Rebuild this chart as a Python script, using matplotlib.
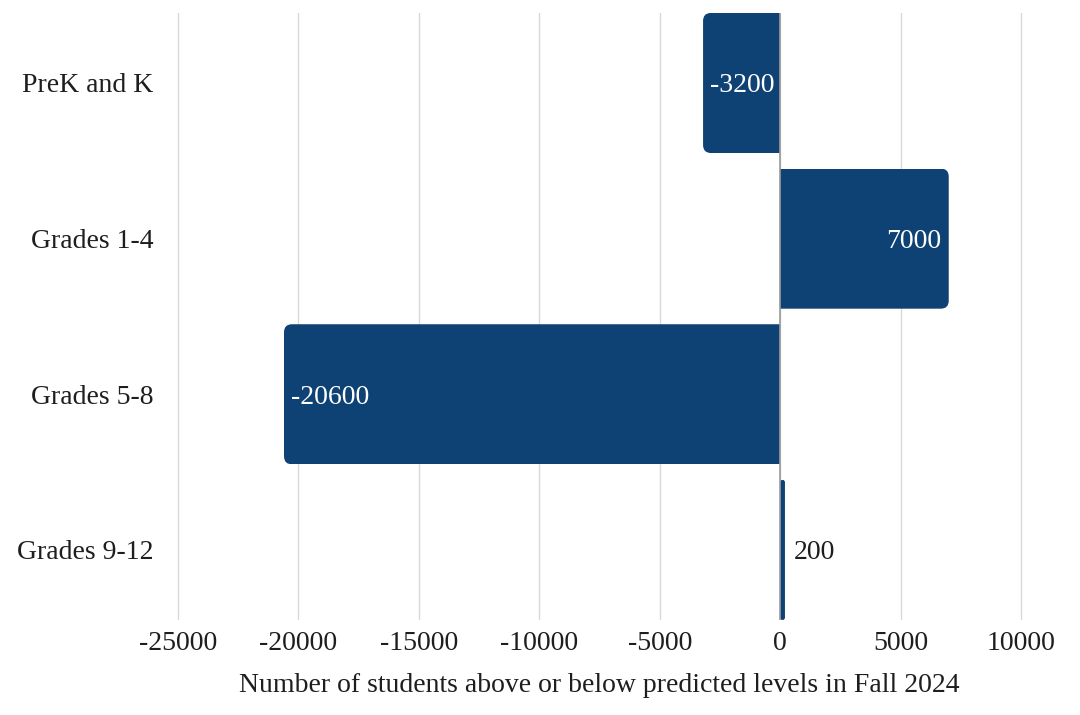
import matplotlib
matplotlib.use("Agg")
import matplotlib.pyplot as plt
from matplotlib.patches import FancyBboxPatch, Rectangle

# data
categories = ["PreK and K", "Grades 1-4", "Grades 5-8", "Grades 9-12"]
values = [-3200, 7000, -20600, 200]
xticks = [-25000, -20000, -15000, -10000, -5000, 0, 5000, 10000]

bar_color = "#0e4174"
text_color = "#1e1e1e"
plt.rcParams['font.family'] = ['Liberation Serif', 'DejaVu Serif']

fig = plt.figure(figsize=(10.8, 7.15), dpi=100)
ax = fig.add_axes([0.1537, 0.1329, 0.8028, 0.849])

ypos = list(range(len(categories)))
bars = ax.barh(ypos, values, height=0.9, color=bar_color, zorder=3)

ax.set_xlim(-25500, 10500)
ax.set_ylim(3.45, -0.45)

# swap plain bars for ones with rounded outer corners
fig.canvas.draw()
px_x = ax.transData.transform((1, 0))[0] - ax.transData.transform((0, 0))[0]
px_y = abs(ax.transData.transform((0, 1))[1] - ax.transData.transform((0, 0))[1])
radius_px = 8
for b, v in zip(bars, values):
    b.set_visible(False)
    x0, y0 = b.get_x(), b.get_y()
    w, h = b.get_width(), b.get_height()
    if w < 0:
        x0, w = x0 + w, -w
    r_x = min(radius_px / px_x, w / 2)
    aspect = px_x / px_y
    if w > 4 * r_x:
        # push the zero side out and clip it away, so only the far end is rounded
        ext = 3 * r_x
        px0 = x0 - ext if v > 0 else x0
        pw = w + ext
    else:
        px0, pw = x0, w
    p = FancyBboxPatch((px0, y0), pw, h,
                       boxstyle="round,pad=0,rounding_size=%f" % r_x,
                       mutation_aspect=aspect,
                       facecolor=bar_color, edgecolor="none", zorder=3)
    ax.add_patch(p)
    clip = Rectangle((x0, y0), w, h, transform=ax.transData)
    p.set_clip_path(clip)

# value labels
pad = 7 / px_x
for y, v in zip(ypos, values):
    if abs(v) < 1000:
        ax.text(v + pad * 1.2, y, str(v), ha="left", va="center_baseline",
                fontsize=20, color=text_color, zorder=4)
    elif v < 0:
        ax.text(v + pad, y, str(v), ha="left", va="center_baseline",
                fontsize=20, color="white", zorder=4)
    else:
        ax.text(v - pad, y, str(v), ha="right", va="center_baseline",
                fontsize=20, color="white", zorder=4)

ax.axvline(0, color="#9a9a9a", linewidth=1.2, zorder=4)
ax.set_xticks(xticks)
ax.set_xticklabels([str(t) for t in xticks])
ax.set_yticks(ypos)
ax.set_yticklabels(categories)
ax.tick_params(axis="both", length=0, labelsize=20, colors=text_color)
ax.tick_params(axis="x", pad=8)
ax.tick_params(axis="y", pad=9)
ax.grid(axis="x", color="#d9d9d9", linewidth=1, zorder=0)
ax.grid(axis="y", visible=False)
for s in ax.spines.values():
    s.set_visible(False)

ax.set_xlabel("Number of students above or below predicted levels in Fall 2024",
              fontsize=20, color=text_color, labelpad=12)

fig.savefig("out.png", dpi=100)
